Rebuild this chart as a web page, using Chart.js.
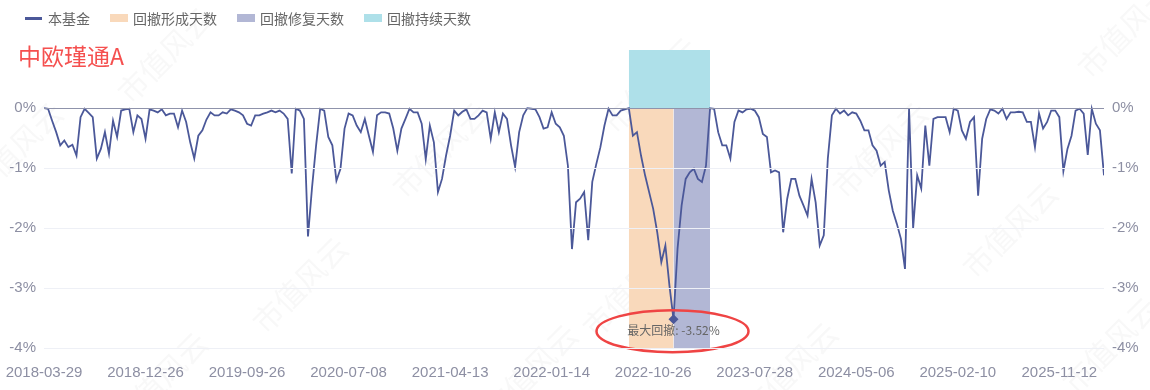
<!DOCTYPE html>
<html lang="zh-CN">
<head>
<meta charset="UTF-8">
<title>中欧瑾通A - 回撤</title>
<script src="https://cdn.jsdelivr.net/npm/chart.js@4"></script>
<style>
    body { margin: 0; background: #fff; font-family: "Noto Sans CJK SC", "Noto Sans", sans-serif; }
    .wrap { position: relative; width: 1150px; height: 390px; }
    .legend { position: absolute; left: 25px; top: 8px; display: flex; align-items: center; font-size: 14px; line-height: 20px; color: #666; }
    .legend .item { display: flex; align-items: center; margin-right: 20px; }
    .legend .box { width: 18px; height: 8px; margin-right: 5px; }
    .legend .ln { width: 17px; height: 3px; margin-right: 6px; }
    .title { position: absolute; left: 18px; top: 43px; font-size: 23px; line-height: 24px; color: #f5504f; }
</style>
</head>
<body>
<div class="wrap">
    <canvas id="ddChart"></canvas>
    <div class="legend" id="legend"></div>
    <div class="title">中欧瑾通A</div>
</div>

<script>
// x axis tick labels, one every tickStep points
const tickLabels = ['2018-03-29', '2018-12-26', '2019-09-26', '2020-07-08', '2021-04-13', '2022-01-14',
    '2022-10-26', '2023-07-28', '2024-05-06', '2025-02-10', '2025-11-12'];
const tickStep = 25;

// drawdown of the fund (%)
const drawdown2018 = [0, -0.01, -0.21, -0.40, -0.62, -0.54, -0.65, -0.61, -0.79, -0.15,
    -0.01, -0.08, -0.15, -0.84, -0.68, -0.40, -0.76, -0.21, -0.48, -0.04,
    -0.02, -0.01, -0.40, -0.12, -0.18, -0.51, -0.02, -0.04, -0.07, -0.02,
    -0.12, -0.09, -0.09, -0.32, -0.04, -0.23, -0.57, -0.84, -0.46, -0.37,
    -0.19, -0.07, -0.12, -0.12];
const drawdown2019 = [-0.07, -0.09, -0.02, -0.04, -0.07, -0.12, -0.26, -0.29, -0.12, -0.12,
    -0.09, -0.07, -0.04, -0.07, -0.04, -0.09, -0.18, -1.09, -0.01, -0.04,
    -0.18, -2.14, -1.32, -0.62, -0.01, -0.04, -0.48, -0.62, -1.21, -1.01,
    -0.34, -0.09, -0.12, -0.29, -0.40, -0.18, -0.46, -0.73, -0.12, -0.07,
    -0.07, -0.09, -0.34];
const drawdown2021 = [-0.71, -0.34, -0.18, -0.01, -0.07, -0.07, -0.26, -0.85, -0.29, -0.57,
    -1.40, -1.18, -0.79, -0.46, -0.04, -0.12, -0.06, -0.02, -0.18, -0.18,
    -0.12, -0.04, -0.07, -0.51, -0.07, -0.40, -0.09, -0.18, -0.62, -0.98,
    -0.40, -0.12, 0, -0.01, -0.02, -0.15, -0.34, -0.32, -0.07, -0.26,
    -0.32, -0.46, -0.96];
const drawdown2022 = [-2.35, -1.57, -1.51, -1.40, -2.20, -1.23, -0.93, -0.65, -0.29, -0.01,
    -0.12, -0.12, -0.04, -0.02, 0, -0.46, -0.40, -0.79, -1.12, -1.40,
    -1.68, -2.07, -2.57, -2.29, -2.96, -3.52, -2.34, -1.62, -1.18, -1.07,
    -1.01, -1.18, -1.23, -0.96, 0, -0.01, -0.40, -0.62, -0.62, -0.84,
    -0.23, -0.04, -0.07];
const drawdown2023 = [-0.02, -0.01, -0.04, -0.15, -0.43, -0.48, -1.07, -1.04, -1.07, -2.07,
    -1.51, -1.18, -1.18, -1.46, -1.62, -1.79, -1.18, -1.57, -2.29, -2.12,
    -0.84, -0.12, -0.01, -0.09, -0.04, -0.12, -0.07, -0.09, -0.21, -0.37,
    -0.37, -0.62, -0.71, -0.96, -0.90, -1.37, -1.71, -1.93, -2.18, -2.68,
    0, -2.00, -1.12, -1.34, -0.29, -0.96];
const drawdown2025 = [-0.18, -0.15, -0.15, -0.15, -0.40, -0.01, -0.04, -0.37, -0.51, -0.23,
    -0.15, -1.46, -0.51, -0.18, -0.02, -0.04, -0.09, -0.01, -0.18, -0.07,
    -0.07, -0.06, -0.07, -0.23, -0.23, -0.65, -0.09, -0.34, -0.23, -0.04,
    -0.04, -0.15, -1.05, -0.68, -0.46, -0.04, -0.01, -0.09, -0.78, -0.01,
    -0.26, -0.37, -1.12];

const drawdown = [].concat(drawdown2018, drawdown2019, drawdown2021, drawdown2022, drawdown2023, drawdown2025);

// max drawdown: trough, the peak before it and the recovery after it
const troughIdx = drawdown.indexOf(Math.min(...drawdown));
const peakIdx = drawdown.lastIndexOf(0, troughIdx);
const recoverIdx = drawdown.indexOf(0, troughIdx);

const lineColor = '#4b5899';
const axisText = '#8d8fa3';
const yMin = -4, yMax = 0.97;

const onlyNonPositive = axis => { axis.ticks = axis.ticks.filter(t => t.value <= 0); };
const pctTicks = { stepSize: 1, color: axisText, padding: 8, font: { size: 15 }, callback: v => v + '%' };

// faint "市值风云" watermark
const watermark = {
    id: 'watermark',
    beforeDraw(chart) {
        const ctx = chart.ctx;
        const spots = [[165, 55], [15, 150], [300, 285], [530, 372], [440, 150], [650, 85], [630, 290],
            [880, 150], [1010, 230], [1125, 30], [1110, 345], [790, 370], [160, 380]];
        ctx.save();
        ctx.font = '30px "Noto Sans CJK SC"';
        ctx.fillStyle = 'rgba(120, 120, 120, 0.05)';
        ctx.textAlign = 'center';
        ctx.textBaseline = 'middle';
        spots.forEach(([x, y]) => {
            ctx.save();
            ctx.translate(x, y);
            ctx.rotate(-Math.PI / 4);
            ctx.fillText('市值风云', 0, 0);
            ctx.restore();
        });
        ctx.restore();
    }
};

// label + red ring under the deepest point
const troughMark = {
    id: 'troughMark',
    afterDatasetsDraw(chart) {
        const pt = chart.getDatasetMeta(0).data[troughIdx];
        const ctx = chart.ctx;
        ctx.save();
        ctx.font = '12px "Noto Sans CJK SC", "Noto Sans", sans-serif';
        ctx.fillStyle = '#666';
        ctx.textAlign = 'center';
        ctx.textBaseline = 'middle';
        ctx.fillText('最大回撤: ' + drawdown[troughIdx].toFixed(2) + '%', pt.x, pt.y + 11);
        ctx.strokeStyle = '#ef4444';
        ctx.lineWidth = 2.5;
        ctx.beginPath();
        ctx.ellipse(pt.x - 1, pt.y + 12, 76, 21, 0, 0, Math.PI * 2);
        ctx.stroke();
        ctx.restore();
    }
};

const chart = new Chart(document.getElementById('ddChart'), {
    type: 'line',
    data: {
        datasets: [{
            label: '本基金',
            data: drawdown.map((v, i) => ({ x: i, y: v })),
            borderColor: lineColor,
            backgroundColor: lineColor,
            borderWidth: 1.8,
            pointStyle: 'rectRot',
            pointRadius: c => c.dataIndex === troughIdx ? 5 : 0,
            pointBackgroundColor: lineColor,
            pointBorderWidth: 0,
            tension: 0
        }, {
            label: '回撤形成天数',
            data: [{ x: peakIdx, y: 0 }, { x: troughIdx, y: 0 }],
            borderColor: 'transparent',
            backgroundColor: '#f9d9bb',
            pointRadius: 0,
            fill: 'start'
        }, {
            label: '回撤修复天数',
            data: [{ x: troughIdx, y: 0 }, { x: recoverIdx, y: 0 }],
            borderColor: 'transparent',
            backgroundColor: '#b2b7d5',
            pointRadius: 0,
            fill: 'start'
        }, {
            label: '回撤持续天数',
            data: [{ x: peakIdx, y: 0 }, { x: recoverIdx, y: 0 }],
            borderColor: 'transparent',
            backgroundColor: '#aee0e9',
            pointRadius: 0,
            fill: 'end'
        }]
    },
    options: {
        responsive: true,
        maintainAspectRatio: false,
        animation: false,
        layout: { padding: { top: 50 } },
        plugins: {
            legend: { display: false },
            tooltip: { enabled: false }
        },
        scales: {
            x: {
                type: 'linear',
                min: 0,
                max: drawdown.length - 1,
                grid: { display: false, drawTicks: false },
                border: { display: false },
                ticks: {
                    stepSize: tickStep,
                    autoSkip: false,
                    maxRotation: 0,
                    padding: 16,
                    color: axisText,
                    font: { size: 15 },
                    callback: v => tickLabels[v / tickStep] || ''
                },
                afterBuildTicks: a => { a.ticks = a.ticks.filter(t => t.value % tickStep === 0); },
                afterFit: a => { a.height = 42; a.paddingLeft = 0; a.paddingRight = 0; }
            },
            y: {
                min: yMin,
                max: yMax,
                grid: {
                    z: 1,
                    drawTicks: false,
                    color: c => c.tick.value === 0 ? '#8f93ab' : '#eef0f6'
                },
                border: { display: false },
                ticks: pctTicks,
                afterBuildTicks: onlyNonPositive,
                afterFit: a => { a.width = 44; }
            },
            y2: {
                position: 'right',
                min: yMin,
                max: yMax,
                grid: { display: false, drawTicks: false },
                border: { display: false },
                ticks: pctTicks,
                afterBuildTicks: onlyNonPositive,
                afterFit: a => { a.width = 46; }
            }
        }
    },
    plugins: [watermark, troughMark]
});

// html legend from the datasets
const legendEl = document.getElementById('legend');
chart.data.datasets.forEach((ds, i) => {
    const item = document.createElement('div');
    item.className = 'item';
    const mark = document.createElement('span');
    mark.className = i === 0 ? 'ln' : 'box';
    mark.style.background = ds.backgroundColor;
    item.appendChild(mark);
    item.appendChild(document.createTextNode(ds.label));
    legendEl.appendChild(item);
});
</script>
</body>
</html>
